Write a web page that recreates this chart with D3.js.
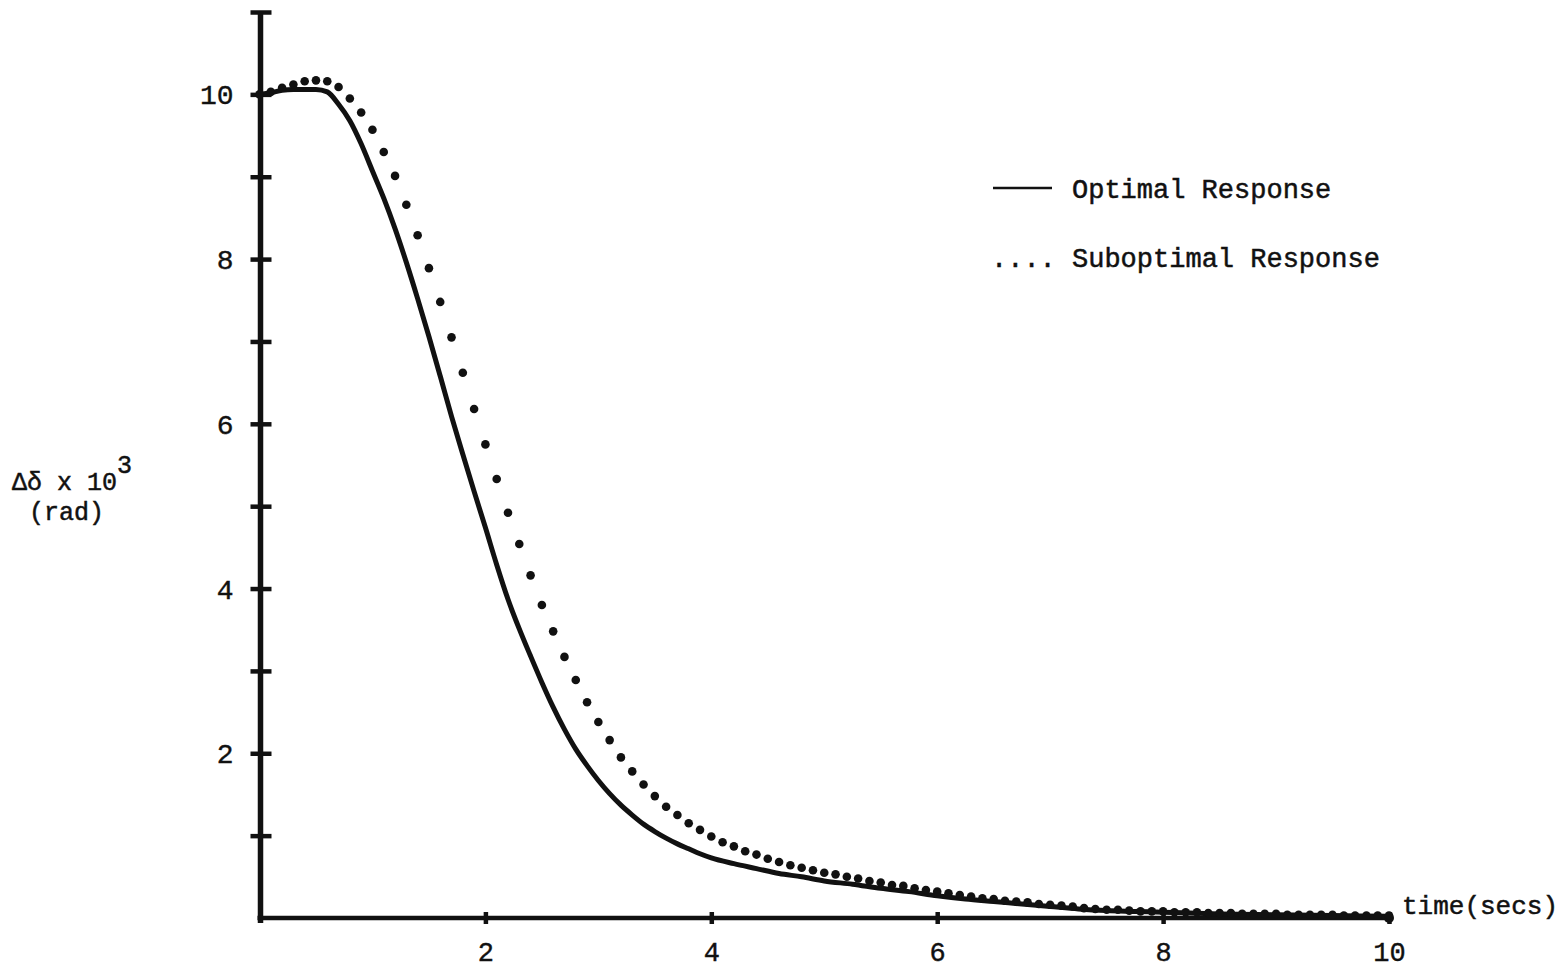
<!DOCTYPE html>
<html>
<head>
<meta charset="utf-8">
<script src="https://cdn.jsdelivr.net/npm/d3@7"></script>
<style>
  html, body { margin: 0; padding: 0; background: #fff; }
  svg { display: block; }
  text { font-family: "Liberation Mono", "DejaVu Sans Mono", monospace; fill: #111; }
</style>
</head>
<body>
<svg id="chart" width="1564" height="968"></svg>
<script>
// ---- data ----
const optimalT = [0,0.1,0.2,0.3,0.4,0.5,0.6,0.7,0.8,0.9,1.0,1.1,1.2,1.3,1.4,1.5,1.6,1.7,1.8,1.9,
  2.0,2.1,2.2,2.3,2.4,2.5,2.6,2.7,2.8,2.9,3.0,3.1,3.2,3.3,3.4,3.5,3.6,3.7,3.8,3.9,
  4.0,4.2,4.4,4.6,4.8,5.0,5.25,5.5,5.75,6.0,6.25,6.5,6.75,7.0,7.25,7.5,7.75,8.0,8.5,9.0,9.5,10.0];
const optimalV = [10.00,10.02,10.05,10.06,10.06,10.06,10.03,9.88,9.68,9.40,9.07,8.74,8.37,7.96,7.52,7.06,6.58,6.09,5.63,5.18,
  4.74,4.29,3.87,3.51,3.18,2.86,2.56,2.29,2.05,1.85,1.67,1.51,1.37,1.25,1.14,1.05,0.97,0.90,0.84,0.78,
  0.73,0.66,0.60,0.54,0.50,0.45,0.41,0.36,0.32,0.27,0.23,0.20,0.17,0.14,0.11,0.09,0.08,0.07,0.05,0.04,0.03,0.02];

// suboptimal response: one dot every 0.1 s from 0 to 10 s
const suboptimalT = d3.range(0, 101).map(i => i / 10);
const suboptimalV = [10.00,10.03,10.08,10.12,10.16,10.17,10.16,10.09,9.95,9.78,
  9.57,9.30,9.01,8.66,8.29,7.89,7.48,7.05,6.62,6.18,
  5.75,5.33,4.92,4.54,4.16,3.80,3.48,3.17,2.89,2.62,
  2.38,2.16,1.95,1.78,1.62,1.48,1.35,1.25,1.15,1.07,
  0.99,0.92,0.87,0.81,0.77,0.72,0.68,0.64,0.61,0.58,
  0.55,0.53,0.50,0.48,0.45,0.43,0.40,0.39,0.36,0.34,
  0.32,0.30,0.28,0.26,0.24,0.23,0.21,0.20,0.19,0.17,
  0.16,0.15,0.14,0.12,0.11,0.10,0.10,0.09,0.08,0.08,
  0.08,0.07,0.07,0.07,0.06,0.06,0.06,0.05,0.05,0.05,
  0.05,0.04,0.04,0.04,0.04,0.04,0.03,0.03,0.03,0.03,0.03];

const xTickValues = [2, 4, 6, 8, 10];
const yTickValues = [1, 2, 3, 4, 5, 6, 7, 8, 9, 10, 11];
const yTickLabels = {2: "2", 4: "4", 6: "6", 8: "8", 10: "10"};
const legendLabels = ["Optimal Response", "Suboptimal Response"];
const xAxisLabel = "time(secs)";

// ---- scales ----
const svg = d3.select("#chart");
const x = d3.scaleLinear().domain([0, 10]).range([259.5, 1389]);
const y = d3.scaleLinear().domain([0, 11]).range([918, 12]);

// ---- y axis ----
const yAxis = d3.axisLeft(y)
  .tickValues(yTickValues)
  .tickSize(0)
  .tickPadding(27)
  .tickFormat(d => yTickLabels[d] || "");
const gy = svg.append("g").attr("transform", `translate(${x(0) + 1},0)`).call(yAxis);
gy.select(".domain").remove();
gy.selectAll(".tick line")
  .attr("x1", -10).attr("x2", 11)
  .attr("stroke", "#111").attr("stroke-width", 4.5);
gy.selectAll(".tick text")
  .attr("font-size", 28)
  .attr("font-family", "Liberation Mono")
  .attr("dy", "0.34em")
  .attr("stroke", "#111").attr("stroke-width", 0.4);
gy.append("line")
  .attr("x1", 0).attr("x2", 0)
  .attr("y1", y(11)).attr("y2", y(0) + 5)
  .attr("stroke", "#111").attr("stroke-width", 5.5);

// ---- x axis ----
const xAxis = d3.axisBottom(x)
  .tickValues(xTickValues)
  .tickSize(0)
  .tickPadding(24)
  .tickFormat(d3.format("d"));
const gx = svg.append("g").attr("transform", `translate(0,${y(0)})`).call(xAxis);
gx.select(".domain").remove();
gx.append("line")
  .attr("x1", x(0) - 2).attr("x2", x(10) + 2)
  .attr("y1", 0).attr("y2", 0)
  .attr("stroke", "#111").attr("stroke-width", 4.5);
gx.selectAll(".tick line")
  .attr("y1", -6).attr("y2", 6)
  .attr("stroke", "#111").attr("stroke-width", 4.5);
gx.selectAll(".tick text")
  .attr("font-size", 27)
  .attr("font-family", "Liberation Mono")
  .attr("stroke", "#111").attr("stroke-width", 0.4);
gx.append("circle").attr("cx", x(10)).attr("cy", 0).attr("r", 5).attr("fill", "#111");

svg.append("text")
  .attr("x", x(10) + 13).attr("y", y(0) - 4)
  .attr("font-size", 26)
  .attr("stroke", "#111").attr("stroke-width", 0.5)
  .text(xAxisLabel);

// ---- y axis label ----
const yl = svg.append("g");
const yt = yl.append("text").attr("x", 12).attr("y", 490).attr("font-size", 25)
  .attr("stroke", "#111").attr("stroke-width", 0.5);
yt.append("tspan").text("\u0394\u03b4 x 10");
yt.append("tspan").attr("dy", -17).attr("font-size", 25).text("3");
yl.append("text").attr("x", 29).attr("y", 520).attr("font-size", 25)
  .attr("stroke", "#111").attr("stroke-width", 0.5).text("(rad)");

// ---- optimal response (solid) ----
const line = d3.line()
  .x((d, i) => x(optimalT[i]))
  .y(d => y(d))
  .curve(d3.curveMonotoneX);
svg.append("path")
  .datum(optimalV)
  .attr("d", line)
  .attr("fill", "none")
  .attr("stroke", "#111")
  .attr("stroke-width", 5)
  .attr("stroke-linejoin", "round")
  .attr("stroke-linecap", "round");

// ---- suboptimal response (dots) ----
svg.append("g").selectAll("circle")
  .data(suboptimalV)
  .join("circle")
  .attr("cx", (d, i) => x(suboptimalT[i]))
  .attr("cy", d => y(d))
  .attr("r", 4.3)
  .attr("fill", "#111");

// ---- legend ----
const lg = svg.append("g");
lg.append("line").attr("x1", 993).attr("x2", 1052).attr("y1", 188).attr("y2", 188)
  .attr("stroke", "#111").attr("stroke-width", 2.5);
lg.append("text").attr("x", 1072).attr("y", 198).attr("font-size", 27)
  .attr("stroke", "#111").attr("stroke-width", 0.5).text(legendLabels[0]);
lg.append("text").attr("x", 991).attr("y", 267).attr("font-size", 27)
  .attr("stroke", "#111").attr("stroke-width", 0.5).text(".... " + legendLabels[1]);
</script>
</body>
</html>
